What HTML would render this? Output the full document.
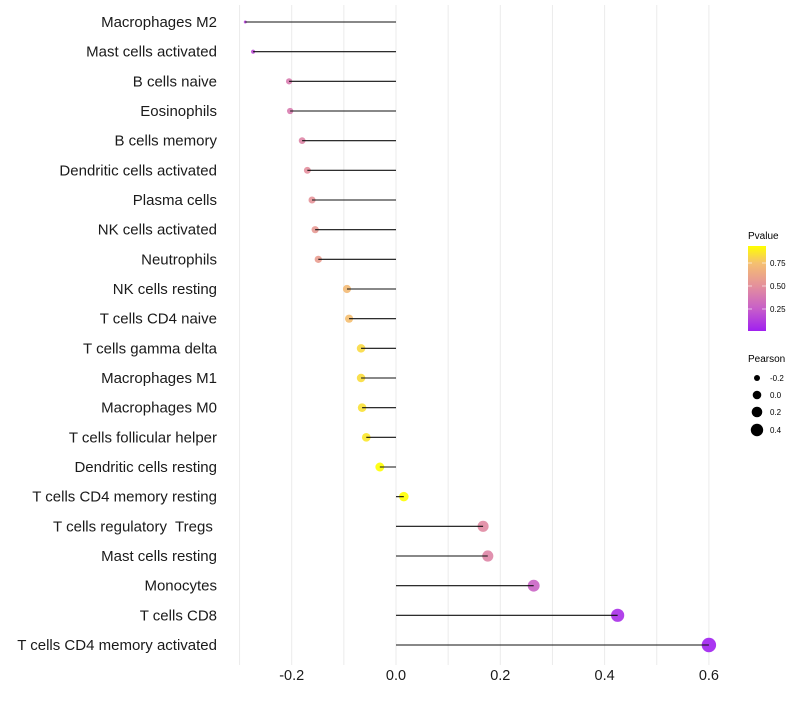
<!DOCTYPE html>
<html><head><meta charset="utf-8"><style>
body{margin:0;background:#fff;font-family:"Liberation Sans",sans-serif;}
</style></head><body>
<svg id="chart" width="800" height="700" xmlns="http://www.w3.org/2000/svg">
<defs>
<linearGradient id="pg" x1="0" y1="1" x2="0" y2="0">
<stop offset="0" stop-color="#a020f0"/><stop offset="0.27" stop-color="#c860c8"/><stop offset="0.53" stop-color="#e4909c"/><stop offset="0.8" stop-color="#f5c070"/><stop offset="1" stop-color="#ffff00"/>
</linearGradient>
</defs>
<g id="grid"></g><g id="marks"></g><g id="labels"></g>
<g font-size="9">
<text x="748" y="239" font-size="10">Pvalue</text>
<rect x="748" y="246" width="18" height="85" fill="url(#pg)"/>
<line x1="748" x2="752" y1="263" y2="263" stroke="#fff" opacity="0.6"/><line x1="762" x2="766" y1="263" y2="263" stroke="#fff" opacity="0.6"/>
<line x1="748" x2="752" y1="286" y2="286" stroke="#fff" opacity="0.6"/><line x1="762" x2="766" y1="286" y2="286" stroke="#fff" opacity="0.6"/>
<line x1="748" x2="752" y1="309" y2="309" stroke="#fff" opacity="0.6"/><line x1="762" x2="766" y1="309" y2="309" stroke="#fff" opacity="0.6"/>
<text x="770" y="266" font-size="8">0.75</text><text x="770" y="289" font-size="8">0.50</text><text x="770" y="312" font-size="8">0.25</text>
<text x="748" y="362" font-size="10">Pearson</text>
<circle cx="757" cy="378" r="3" fill="#000"/><text x="770" y="381" font-size="8">-0.2</text>
<circle cx="757" cy="395" r="4.3" fill="#000"/><text x="770" y="398" font-size="8">0.0</text>
<circle cx="757" cy="412" r="5.3" fill="#000"/><text x="770" y="415" font-size="8">0.2</text>
<circle cx="757" cy="430" r="6.2" fill="#000"/><text x="770" y="433" font-size="8">0.4</text>
</g>
</svg>
<script>
const categories=["Macrophages M2","Mast cells activated","B cells naive","Eosinophils","B cells memory","Dendritic cells activated","Plasma cells","NK cells activated","Neutrophils","NK cells resting","T cells CD4 naive","T cells gamma delta","Macrophages M1","Macrophages M0","T cells follicular helper","Dendritic cells resting","T cells CD4 memory resting","T cells regulatory  Tregs ","Mast cells resting","Monocytes","T cells CD8","T cells CD4 memory activated"];
const pearson=[-0.289,-0.274,-0.205,-0.203,-0.180,-0.170,-0.161,-0.155,-0.149,-0.094,-0.090,-0.067,-0.067,-0.065,-0.057,-0.031,0.015,0.167,0.176,0.264,0.425,0.600];
const pvalue=[0.15,0.18,0.40,0.40,0.45,0.50,0.52,0.55,0.57,0.72,0.75,0.83,0.84,0.85,0.87,0.95,0.99,0.47,0.45,0.28,0.06,0.01];
const xTicks=[-0.2,0.0,0.2,0.4,0.6];
const ns="http://www.w3.org/2000/svg";
const x=v=>396+v*521.5;
const y=i=>22+i*29.667;
const stops=[[0,[160,32,240]],[0.27,[200,96,200]],[0.53,[228,144,156]],[0.8,[245,192,112]],[1,[255,255,0]]];
function col(p){let t=Math.max(0,Math.min(1,(p-0.01)/0.93));for(let k=1;k<stops.length;k++){if(t<=stops[k][0]){const a=stops[k-1],b=stops[k],f=(t-a[0])/(b[0]-a[0]);return 'rgb('+a[1].map((c,j)=>Math.round(c+(b[1][j]-c)*f)).join(',')+')';}}return 'rgb(255,255,0)';}
const rad=v=>1.3+5.9*Math.sqrt(Math.max(0,(v+0.29)/0.89));
function el(t,a,p){const e=document.createElementNS(ns,t);for(const k in a)e.setAttribute(k,a[k]);p.appendChild(e);return e;}
const grid=document.getElementById('grid'),marks=document.getElementById('marks'),labels=document.getElementById('labels');
for(let v=-0.3;v<=0.61;v+=0.1){const g=el('line',{x1:x(v),x2:x(v),y1:5,y2:665,stroke:'#ebebeb','stroke-width':1},grid);

}
xTicks.forEach(t=>{const e=el('text',{x:x(t),y:680,'text-anchor':'middle','font-size':14.5,fill:'#1a1a1a'},labels);e.textContent=t.toFixed(1);

});
categories.forEach((c,i)=>{
const t=el('text',{x:217,y:y(i)+5,'text-anchor':'end','font-size':15,fill:'#1a1a1a','xml:space':'preserve',style:'white-space:pre'},labels);t.textContent=c;


const p=el('circle',{cx:x(pearson[i]),cy:y(i),r:rad(pearson[i]),fill:col(pvalue[i]),'fill-opacity':0.9},marks);


const s=el('line',{x1:x(0),x2:x(pearson[i]),y1:y(i),y2:y(i),stroke:'#111','stroke-width':1.1},marks);


});
</script>
</body></html>
